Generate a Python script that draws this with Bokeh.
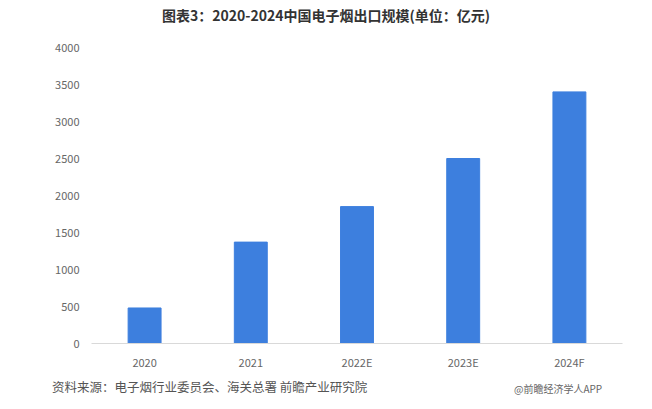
from bokeh.plotting import figure
from bokeh.models import ColumnDataSource, Range1d, FactorRange, Div
from bokeh.layouts import column
from bokeh.embed import file_html
from bokeh.resources import INLINE

categories = ["2020", "2021", "2022E", "2023E", "2024F"]
values = [480, 1370, 1850, 2500, 3400]
y_ticks = [0, 500, 1000, 1500, 2000, 2500, 3000, 3500, 4000]

title_text = "图表3：2020-2024中国电子烟出口规模(单位：亿元)"
source_text = "资料来源：电子烟行业委员会、海关总署 前瞻产业研究院"
brand_text = "@前瞻经济学人APP"

FONT = "Noto Sans CJK SC"
W = 652

src = ColumnDataSource(dict(cat=categories, val=values))

p = figure(
    x_range=FactorRange(*categories, range_padding=0),
    y_range=Range1d(0, 4000),
    width=W, height=342,
    output_backend="svg", toolbar_location=None,
    min_border_left=91, min_border_right=30,
    min_border_top=17, min_border_bottom=20,
)
p.vbar(x="cat", top="val", width=0.31, source=src, color="#3D7FDE")

p.outline_line_color = None
p.xgrid.grid_line_color = None
p.ygrid.grid_line_color = None

p.yaxis.ticker = y_ticks
p.yaxis.axis_line_color = None
p.yaxis.major_tick_line_color = None
p.yaxis.minor_tick_line_color = None
p.yaxis.major_tick_out = 0
p.yaxis.major_label_standoff = 12
p.yaxis.major_label_text_font = FONT
p.yaxis.major_label_text_font_size = "11px"
p.yaxis.major_label_text_color = "#666666"

p.xaxis.axis_line_color = "#d9d9d9"
p.xaxis.major_tick_line_color = None
p.xaxis.minor_tick_line_color = None
p.xaxis.major_tick_out = 0
p.xaxis.major_label_standoff = 10
p.xaxis.major_label_text_font = FONT
p.xaxis.major_label_text_font_size = "11px"
p.xaxis.major_label_text_color = "#666666"

header_html = (
    f'<div style="width:{W}px;height:30px;line-height:30px;text-align:center;'
    f'font-family:\'{FONT}\';font-size:14px;font-weight:bold;color:#333333;'
    f'white-space:nowrap;">{title_text}</div>'
)
header = Div(text=header_html, width=W, height=30, margin=0)

footer_html = (
    f'<div style="position:relative;width:{W}px;height:37px;font-family:\'{FONT}\';">'
    f'<span style="position:absolute;left:52px;top:7px;font-size:12.5px;line-height:16px;'
    f'color:#555555;white-space:nowrap;">{source_text}</span>'
    f'<span style="position:absolute;left:514px;top:10px;font-size:10px;line-height:14px;'
    f'color:#666666;white-space:nowrap;">{brand_text}</span>'
    '</div>'
)
footer = Div(text=footer_html, width=W, height=37, margin=0)

layout = column(header, p, footer, spacing=0)
open("out.html", "w").write(file_html(layout, INLINE))
